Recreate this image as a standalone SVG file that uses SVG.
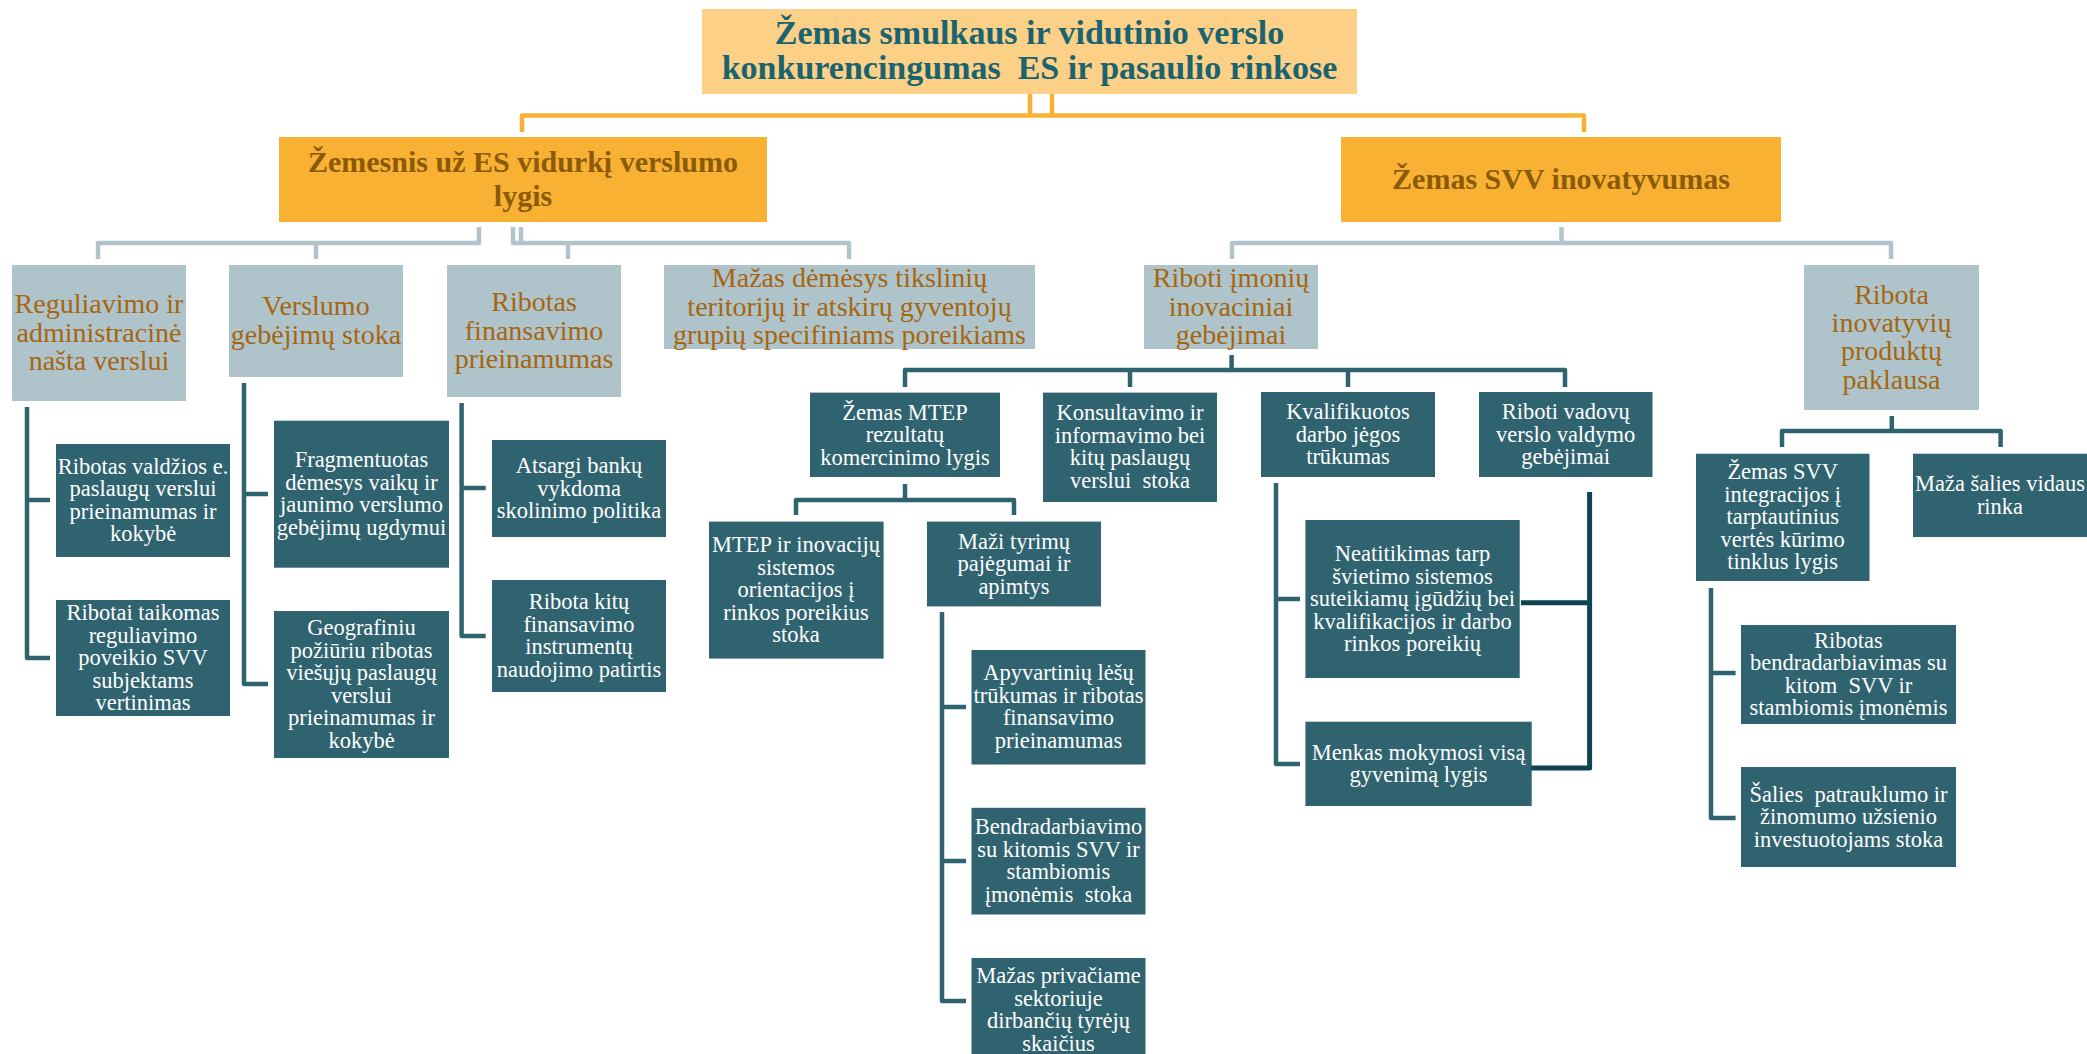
<svg xmlns="http://www.w3.org/2000/svg" width="2087" height="1054" viewBox="0 0 2087 1054">
<style>
text{font-family:"Liberation Serif","Times New Roman",serif;text-anchor:middle}
.top rect{fill:#FDD088}
.top text{fill:#1A6470;font-weight:bold;font-size:34px}
.l2 rect{fill:#F8B133}
.l2 text{fill:#8A5A07;font-weight:bold;font-size:30px}
.g rect{fill:#AFC3CB}
.g text{fill:#A5660F;font-size:28px}
.t rect{fill:#306370}
.t text{fill:#FFFFFF;font-size:22.5px}
.c path{fill:none;stroke-width:4.5;stroke-linejoin:round}
.co path{stroke:#F8B133}
.cg path{stroke:#B0C4CC}
.ct path{stroke:#306370}
.cd path{stroke:#0C4550;stroke-width:5}
</style>
<rect width="2087" height="1054" fill="#FFFFFF"/>
<g id="connectors" class="c">
 <g class="co">
  <path d="M1030 94V115.5"/>
  <path d="M1052 94V115.5"/>
  <path d="M522 132V115.5H1584V132"/>
 </g>
 <g class="cg">
  <path d="M479 227V243H98V259"/>
  <path d="M316 243V259"/>
  <path d="M513 227V243H849V259"/>
  <path d="M521 227V243"/>
  <path d="M568 243V259"/>
  <path d="M1561.5 227V243H1232V259"/>
  <path d="M1561.5 243H1891V259"/>
 </g>
 <g class="ct">
  <path d="M1231.6 355V370H905V387"/>
  <path d="M1231.6 370H1565V387"/>
  <path d="M1130 370V387"/>
  <path d="M1348 370V387"/>
  <path d="M905 484V500H796V515"/>
  <path d="M905 500H1014V515"/>
  <path d="M942 612V1001H966"/>
  <path d="M942 707H966"/>
  <path d="M942 861H966"/>
  <path d="M27 407V658H50"/>
  <path d="M27 500H50"/>
  <path d="M244 383V684H268"/>
  <path d="M244 494H268"/>
  <path d="M461.6 403V636H485.7"/>
  <path d="M461.6 488H485.7"/>
  <path d="M1276 483V764H1300"/>
  <path d="M1276 599H1300"/>
  <path d="M1891.8 416V431H1782V447"/>
  <path d="M1891.8 431H2000.6V447"/>
  <path d="M1711 588V818H1735.6"/>
  <path d="M1711 673H1735.6"/>
 </g>
 <g class="cd">
  <path d="M1589.6 492V768H1525"/>
  <path d="M1589.6 602.7H1521"/>
 </g>
</g>

<g id="n-top" class="top">
 <rect x="702" y="9" width="655" height="85"/>
 <text><tspan x="1029.5" y="43.5">Žemas smulkaus ir vidutinio verslo</tspan><tspan x="1029.5" y="78.5">konkurencingumas&#160; ES ir pasaulio rinkose</tspan></text>
</g>

<g id="n-verslumas" class="l2">
 <rect x="279" y="137" width="488" height="85"/>
 <text><tspan x="523" y="171.5">Žemesnis už ES vidurkį verslumo</tspan><tspan x="523" y="205.5">lygis</tspan></text>
</g>
<g id="n-inovatyvumas" class="l2">
 <rect x="1341" y="137" width="440" height="85"/>
 <text><tspan x="1561" y="189">Žemas SVV inovatyvumas</tspan></text>
</g>

<g id="n-reguliavimo" class="g">
 <rect x="12" y="265" width="174" height="136"/>
 <text><tspan x="99" y="313.2">Reguliavimo ir</tspan><tspan x="99" y="341.5">administracinė</tspan><tspan x="99" y="369.8">našta verslui</tspan></text>
</g>
<g id="n-gebejimu" class="g">
 <rect x="229" y="265" width="174" height="112"/>
 <text><tspan x="316" y="315.4">Verslumo</tspan><tspan x="316" y="343.6">gebėjimų stoka</tspan></text>
</g>
<g id="n-finansavimo" class="g">
 <rect x="447" y="265" width="174" height="132"/>
 <text><tspan x="534" y="311.2">Ribotas</tspan><tspan x="534" y="339.5">finansavimo</tspan><tspan x="534" y="367.8">prieinamumas</tspan></text>
</g>
<g id="n-demesys" class="g">
 <rect x="664" y="265" width="371" height="84"/>
 <text><tspan x="849.5" y="287.2">Mažas dėmėsys tikslinių</tspan><tspan x="849.5" y="315.5">teritorijų ir atskirų gyventojų</tspan><tspan x="849.5" y="343.8">grupių specifiniams poreikiams</tspan></text>
</g>
<g id="n-imoniu" class="g">
 <rect x="1144" y="265" width="174" height="84"/>
 <text><tspan x="1231" y="287.2">Riboti įmonių</tspan><tspan x="1231" y="315.5">inovaciniai</tspan><tspan x="1231" y="343.8">gebėjimai</tspan></text>
</g>
<g id="n-paklausa" class="g">
 <rect x="1804" y="265" width="175" height="145"/>
 <text><tspan x="1891.5" y="303.6">Ribota</tspan><tspan x="1891.5" y="331.9">inovatyvių</tspan><tspan x="1891.5" y="360.2">produktų</tspan><tspan x="1891.5" y="388.5">paklausa</tspan></text>
</g>

<g id="n-mtep" class="t">
 <rect x="810" y="392.6" width="190" height="84.4"/>
 <text><tspan x="905" y="419.5">Žemas MTEP</tspan><tspan x="905" y="442">rezultatų</tspan><tspan x="905" y="464.5">komercinimo lygis</tspan></text>
</g>
<g id="n-konsultavimo" class="t">
 <rect x="1043" y="392.6" width="174" height="109.4"/>
 <text><tspan x="1130" y="420.3">Konsultavimo ir</tspan><tspan x="1130" y="442.8">informavimo bei</tspan><tspan x="1130" y="465.3">kitų paslaugų</tspan><tspan x="1130" y="487.8">verslui&#160; stoka</tspan></text>
</g>
<g id="n-kvalifikuotos" class="t">
 <rect x="1261" y="392" width="174" height="85"/>
 <text><tspan x="1348" y="419">Kvalifikuotos</tspan><tspan x="1348" y="441.5">darbo jėgos</tspan><tspan x="1348" y="464">trūkumas</tspan></text>
</g>
<g id="n-vadovu" class="t">
 <rect x="1479" y="392" width="173.5" height="85"/>
 <text><tspan x="1565.7" y="419">Riboti vadovų</tspan><tspan x="1565.7" y="441.5">verslo valdymo</tspan><tspan x="1565.7" y="464">gebėjimai</tspan></text>
</g>
<g id="n-orientacijos" class="t">
 <rect x="709" y="521.6" width="174.6" height="137"/>
 <text><tspan x="796" y="552">MTEP ir inovacijų</tspan><tspan x="796" y="574.5">sistemos</tspan><tspan x="796" y="597">orientacijos į</tspan><tspan x="796" y="619.5">rinkos poreikius</tspan><tspan x="796" y="642">stoka</tspan></text>
</g>
<g id="n-tyrimu" class="t">
 <rect x="927" y="521.6" width="174" height="84.8"/>
 <text><tspan x="1014" y="548.5">Maži tyrimų</tspan><tspan x="1014" y="571">pajėgumai ir</tspan><tspan x="1014" y="593.5">apimtys</tspan></text>
</g>
<g id="n-apyvartiniu" class="t">
 <rect x="971.5" y="650" width="174" height="114.5"/>
 <text><tspan x="1058.5" y="680.3">Apyvartinių lėšų</tspan><tspan x="1058.5" y="702.8">trūkumas ir ribotas</tspan><tspan x="1058.5" y="725.3">finansavimo</tspan><tspan x="1058.5" y="747.8">prieinamumas</tspan></text>
</g>
<g id="n-bendradarbiavimo" class="t">
 <rect x="971.5" y="807.8" width="174" height="106.7"/>
 <text><tspan x="1058.5" y="834.3">Bendradarbiavimo</tspan><tspan x="1058.5" y="856.8">su kitomis SVV ir</tspan><tspan x="1058.5" y="879.3">stambiomis</tspan><tspan x="1058.5" y="901.8">įmonėmis&#160; stoka</tspan></text>
</g>
<g id="n-tyreju" class="t">
 <rect x="971.5" y="958" width="174" height="100"/>
 <text><tspan x="1058.5" y="983">Mažas privačiame</tspan><tspan x="1058.5" y="1005.5">sektoriuje</tspan><tspan x="1058.5" y="1028">dirbančių tyrėjų</tspan><tspan x="1058.5" y="1050.5">skaičius</tspan></text>
</g>
<g id="n-epaslaugu" class="t">
 <rect x="56" y="444" width="174" height="113"/>
 <text><tspan x="143" y="473.8">Ribotas valdžios e.</tspan><tspan x="143" y="496.3">paslaugų verslui</tspan><tspan x="143" y="518.8">prieinamumas ir</tspan><tspan x="143" y="541.3">kokybė</tspan></text>
</g>
<g id="n-poveikio" class="t">
 <rect x="56" y="600" width="174" height="116"/>
 <text><tspan x="143" y="620">Ribotai taikomas</tspan><tspan x="143" y="642.5">reguliavimo</tspan><tspan x="143" y="665">poveikio SVV</tspan><tspan x="143" y="687.5">subjektams</tspan><tspan x="143" y="710">vertinimas</tspan></text>
</g>
<g id="n-fragmentuotas" class="t">
 <rect x="274" y="420.7" width="175" height="147"/>
 <text><tspan x="361.5" y="467.3">Fragmentuotas</tspan><tspan x="361.5" y="489.8">dėmesys vaikų ir</tspan><tspan x="361.5" y="512.3">jaunimo verslumo</tspan><tspan x="361.5" y="534.8">gebėjimų ugdymui</tspan></text>
</g>
<g id="n-geografiniu" class="t">
 <rect x="274" y="611" width="175" height="147"/>
 <text><tspan x="361.5" y="635.3">Geografiniu</tspan><tspan x="361.5" y="657.8">požiūriu ribotas</tspan><tspan x="361.5" y="680.3">viešųjų paslaugų</tspan><tspan x="361.5" y="702.8">verslui</tspan><tspan x="361.5" y="725.3">prieinamumas ir</tspan><tspan x="361.5" y="747.8">kokybė</tspan></text>
</g>
<g id="n-banku" class="t">
 <rect x="492" y="440" width="174" height="97"/>
 <text><tspan x="579" y="473">Atsargi bankų</tspan><tspan x="579" y="495.5">vykdoma</tspan><tspan x="579" y="518">skolinimo politika</tspan></text>
</g>
<g id="n-instrumentu" class="t">
 <rect x="492" y="580" width="174" height="112"/>
 <text><tspan x="579" y="609.3">Ribota kitų</tspan><tspan x="579" y="631.8">finansavimo</tspan><tspan x="579" y="654.3">instrumentų</tspan><tspan x="579" y="676.8">naudojimo patirtis</tspan></text>
</g>
<g id="n-neatitikimas" class="t">
 <rect x="1305.4" y="520" width="214.3" height="158"/>
 <text><tspan x="1412.5" y="561">Neatitikimas tarp</tspan><tspan x="1412.5" y="583.5">švietimo sistemos</tspan><tspan x="1412.5" y="606">suteikiamų įgūdžių bei</tspan><tspan x="1412.5" y="628.5">kvalifikacijos ir darbo</tspan><tspan x="1412.5" y="651">rinkos poreikių</tspan></text>
</g>
<g id="n-mokymosi" class="t">
 <rect x="1305.4" y="721.7" width="226.3" height="84.3"/>
 <text><tspan x="1418.5" y="759.8">Menkas mokymosi visą</tspan><tspan x="1418.5" y="782.3">gyvenimą lygis</tspan></text>
</g>
<g id="n-integracijos" class="t">
 <rect x="1696" y="453.7" width="173.5" height="127.3"/>
 <text><tspan x="1782.7" y="479">Žemas SVV</tspan><tspan x="1782.7" y="501.5">integracijos į</tspan><tspan x="1782.7" y="524">tarptautinius</tspan><tspan x="1782.7" y="546.5">vertės kūrimo</tspan><tspan x="1782.7" y="569">tinklus lygis</tspan></text>
</g>
<g id="n-rinka" class="t">
 <rect x="1913" y="453.7" width="180" height="83.3"/>
 <text><tspan x="2000" y="491.3">Maža šalies vidaus</tspan><tspan x="2000" y="513.8">rinka</tspan></text>
</g>
<g id="n-bendradarbiavimas" class="t">
 <rect x="1741" y="625" width="215" height="99"/>
 <text><tspan x="1848.5" y="647.8">Ribotas</tspan><tspan x="1848.5" y="670.3">bendradarbiavimas su</tspan><tspan x="1848.5" y="692.8">kitom&#160; SVV ir</tspan><tspan x="1848.5" y="715.3">stambiomis įmonėmis</tspan></text>
</g>
<g id="n-patrauklumo" class="t">
 <rect x="1741" y="767" width="215" height="100"/>
 <text><tspan x="1848.5" y="801.5">Šalies&#160; patrauklumo ir</tspan><tspan x="1848.5" y="824">žinomumo užsienio</tspan><tspan x="1848.5" y="846.5">investuotojams stoka</tspan></text>
</g>
</svg>
